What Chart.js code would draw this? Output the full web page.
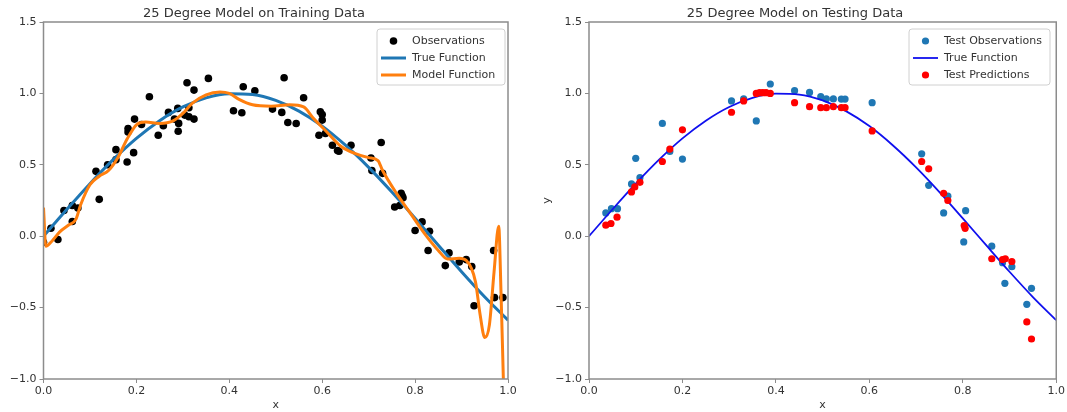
<!DOCTYPE html>
<html><head><meta charset="utf-8">
<script src="https://cdn.jsdelivr.net/npm/chart.js@4.4.0/dist/chart.umd.min.js"></script>
<style>
html,body{margin:0;padding:0;background:#fff;width:1067px;height:412px;overflow:hidden}
#l{position:absolute;left:0;top:0;width:533px;height:412px}
#r{position:absolute;left:533px;top:0;width:534px;height:412px}
</style></head><body>
<div id="l"><canvas id="c1" width="533" height="412"></canvas></div>
<div id="r"><canvas id="c2" width="534" height="412"></canvas></div>
<script>
// ---- data ----
const xTickLabels = ['0.0','0.2','0.4','0.6','0.8','1.0'];
const yTickLabels = ['\u22121.0','\u22120.5','0.0','0.5','1.0','1.5'];

const trainObsX = [0.000,0.016,0.031,0.044,0.062,0.062,0.074,0.113,0.120,0.138,0.156,0.156,0.180,0.182,0.182,0.194,0.196,0.211,0.228,0.247,0.258,0.269,0.282,0.289,0.290,0.291,0.304,0.313,0.309,0.313,0.324,0.324,0.355,0.409,0.427,0.430,0.455,0.493,0.513,0.518,0.526,0.544,0.560,0.593,0.596,0.600,0.600,0.607,0.622,0.633,0.636,0.662,0.705,0.707,0.727,0.730,0.756,0.767,0.770,0.772,0.774,0.800,0.815,0.828,0.831,0.865,0.873,0.895,0.910,0.922,0.927,0.969,0.971,0.989];
const trainObsY = [-0.042,0.056,-0.023,0.180,0.103,0.215,0.197,0.454,0.258,0.500,0.606,0.536,0.520,0.754,0.730,0.585,0.820,0.782,0.977,0.707,0.773,0.867,0.820,0.895,0.735,0.790,0.848,0.836,1.075,0.900,1.023,0.820,1.105,0.878,0.864,1.047,1.019,0.890,0.867,1.110,0.796,0.789,0.970,0.707,0.871,0.852,0.813,0.720,0.637,0.600,0.595,0.637,0.548,0.460,0.656,0.440,0.204,0.215,0.300,0.285,0.270,0.040,0.100,-0.100,0.035,-0.206,-0.117,-0.180,-0.164,-0.213,-0.487,-0.100,-0.430,-0.430];

const trueX = [0.00,0.05,0.10,0.15,0.20,0.25,0.30,0.35,0.40,0.45,0.50,0.55,0.60,0.65,0.70,0.75,0.80,0.85,0.90,0.95,1.00];
const trueY = [0.000,0.187,0.368,0.536,0.685,0.809,0.905,0.969,0.998,0.992,0.951,0.876,0.771,0.637,0.482,0.309,0.125,-0.063,-0.249,-0.426,-0.588];

const modelX = [0.000,0.005,0.018,0.035,0.055,0.070,0.080,0.100,0.120,0.140,0.160,0.180,0.200,0.220,0.250,0.280,0.300,0.320,0.350,0.380,0.400,0.420,0.450,0.490,0.530,0.560,0.580,0.610,0.640,0.670,0.700,0.720,0.730,0.760,0.790,0.820,0.850,0.870,0.895,0.910,0.930,0.940,0.950,0.960,0.970,0.980,0.985,0.990,0.995];
const modelY = [0.200,-0.070,-0.035,0.030,0.080,0.120,0.220,0.360,0.420,0.460,0.550,0.680,0.780,0.800,0.790,0.810,0.860,0.930,0.990,1.010,1.000,0.960,0.920,0.910,0.920,0.905,0.830,0.730,0.630,0.580,0.550,0.530,0.460,0.300,0.160,0.020,-0.100,-0.160,-0.155,-0.170,-0.320,-0.550,-0.710,-0.620,-0.250,0.070,-0.400,-1.000,-1.600];

const testObsX = [0.036,0.048,0.061,0.091,0.100,0.109,0.157,0.173,0.200,0.305,0.331,0.358,0.388,0.440,0.472,0.496,0.508,0.523,0.540,0.548,0.606,0.712,0.727,0.759,0.768,0.802,0.806,0.862,0.885,0.890,0.905,0.937,0.947];
const testObsY = [0.163,0.193,0.193,0.366,0.545,0.410,0.790,0.593,0.540,0.947,0.961,0.807,1.066,1.019,1.007,0.977,0.961,0.961,0.960,0.960,0.935,0.577,0.356,0.163,0.280,-0.040,0.179,-0.070,-0.186,-0.330,-0.214,-0.477,-0.365];

const testPredX = [0.036,0.047,0.060,0.091,0.098,0.109,0.157,0.173,0.200,0.305,0.331,0.358,0.365,0.372,0.379,0.388,0.440,0.472,0.496,0.508,0.523,0.540,0.548,0.606,0.712,0.727,0.759,0.768,0.803,0.805,0.862,0.885,0.891,0.905,0.937,0.947];
const testPredY = [0.077,0.089,0.133,0.310,0.345,0.377,0.523,0.610,0.745,0.868,0.947,1.000,1.005,1.005,1.005,1.000,0.935,0.907,0.900,0.900,0.907,0.900,0.900,0.737,0.523,0.472,0.300,0.250,0.075,0.055,-0.158,-0.163,-0.158,-0.177,-0.600,-0.720];

// ---- helpers ----
const pts = (xs, ys) => xs.map((x, i) => ({x: x, y: ys[i]}));
const FONT = '"DejaVu Sans", "Liberation Sans", sans-serif';
const TXT = '#333333';
const SPINE = '#8c8c8c';

function scales(yWidth, yTitle) {
  return {
    x: {
      type: 'linear', min: 0, max: 1,
      ticks: { stepSize: 0.2, autoSkip: false, maxRotation: 0, padding: 2,
               color: TXT, font: {family: FONT, size: 11},
               callback: (v, i) => xTickLabels[i] },
      grid: { drawOnChartArea: false, drawTicks: true, tickLength: 4, color: SPINE, lineWidth: 1 },
      border: { display: false },
      title: { display: true, text: 'x', color: TXT, font: {family: FONT, size: 11}, padding: {top: 0, bottom: 0} },
      afterFit: s => { s.height = 33; }
    },
    y: {
      type: 'linear', min: -1, max: 1.5,
      ticks: { stepSize: 0.5, autoSkip: false, padding: 3,
               color: TXT, font: {family: FONT, size: 11},
               callback: (v, i) => yTickLabels[i] },
      grid: { drawOnChartArea: false, drawTicks: true, tickLength: 4, color: SPINE, lineWidth: 1 },
      border: { display: false },
      title: { display: !!yTitle, text: yTitle || '', color: TXT, font: {family: FONT, size: 11}, padding: {top: 8, bottom: 0} },
      afterFit: s => { s.width = yWidth; }
    }
  };
}

const framePlugin = {
  id: 'frame',
  afterDatasetsDraw(chart) {
    const a = chart.chartArea, c = chart.ctx;
    c.save();
    c.strokeStyle = SPINE; c.lineWidth = 1.5;
    c.strokeRect(a.left, a.top, a.right - a.left, a.bottom - a.top);
    c.restore();
  }
};

function legendPlugin(order, box) {
  return {
    id: 'boxLegend',
    afterDraw(chart) {
      const c = chart.ctx;
      const {L, R, T, B, rows} = box;
      c.save();
      c.beginPath();
      const r = 3;
      c.moveTo(L + r, T); c.lineTo(R - r, T); c.quadraticCurveTo(R, T, R, T + r);
      c.lineTo(R, B - r); c.quadraticCurveTo(R, B, R - r, B);
      c.lineTo(L + r, B); c.quadraticCurveTo(L, B, L, B - r);
      c.lineTo(L, T + r); c.quadraticCurveTo(L, T, L + r, T);
      c.closePath();
      c.fillStyle = 'rgba(255,255,255,0.85)'; c.fill();
      c.strokeStyle = '#d0d0d0'; c.lineWidth = 1; c.stroke();
      order.forEach((di, i) => {
        const ds = chart.data.datasets[di];
        const y = rows[i];
        if (ds.showLine) {
          c.strokeStyle = ds.borderColor; c.lineWidth = ds.borderWidth;
          c.beginPath(); c.moveTo(L + 4, y); c.lineTo(L + 29, y); c.stroke();
        } else {
          c.fillStyle = ds.backgroundColor;
          c.beginPath(); c.arc(L + 16.5, y, ds.pointRadius, 0, Math.PI * 2); c.fill();
        }
        c.fillStyle = TXT; c.font = '11px ' + FONT;
        c.textAlign = 'left'; c.textBaseline = 'middle';
        c.fillText(ds.label, L + 35, y);
      });
      c.restore();
    }
  };
}

const common = (titleText, padRight, yWidth, yTitle) => ({
  responsive: false, animation: false, events: [],
  layout: { padding: { left: 0, right: padRight, top: 0, bottom: 0 } },
  plugins: {
    legend: { display: false }, tooltip: { enabled: false },
    title: { display: true, text: titleText, color: TXT,
             font: { family: FONT, size: 13, weight: 'normal', lineHeight: 1 },
             padding: { top: 7.5, bottom: 1.5 } }
  },
  scales: scales(yWidth, yTitle)
});

new Chart(document.getElementById('c1'), {
  type: 'scatter',
  data: { datasets: [
    { label: 'Observations', data: pts(trainObsX, trainObsY), backgroundColor: '#000000', borderColor: '#000000',
      pointRadius: 3.8, pointBorderWidth: 0, showLine: false, order: 3 },
    { label: 'True Function', data: pts(trueX, trueY), borderColor: '#1f77b4', backgroundColor: '#1f77b4',
      borderWidth: 3, pointRadius: 0, showLine: true, cubicInterpolationMode: 'monotone', order: 2 },
    { label: 'Model Function', data: pts(modelX, modelY), borderColor: '#ff7f0e', backgroundColor: '#ff7f0e',
      borderWidth: 3, pointRadius: 0, showLine: true, cubicInterpolationMode: 'monotone', order: 1 }
  ]},
  options: common('25 Degree Model on Training Data', 25, 43.5, null),
  plugins: [framePlugin, legendPlugin([0, 1, 2], {L: 377, R: 505, T: 29, B: 85, rows: [41, 58, 75]})]
});

new Chart(document.getElementById('c2'), {
  type: 'scatter',
  data: { datasets: [
    { label: 'Test Observations', data: pts(testObsX, testObsY), backgroundColor: '#1f77b4', borderColor: '#1f77b4',
      pointRadius: 3.6, pointBorderWidth: 0, showLine: false, order: 3 },
    { label: 'True Function', data: pts(trueX, trueY), borderColor: '#1010ee', backgroundColor: '#1010ee',
      borderWidth: 1.8, pointRadius: 0, showLine: true, cubicInterpolationMode: 'monotone', order: 2 },
    { label: 'Test Predictions', data: pts(testPredX, testPredY), backgroundColor: '#ff0000', borderColor: '#ff0000',
      pointRadius: 3.6, pointBorderWidth: 0, showLine: false, order: 1 }
  ]},
  options: common('25 Degree Model on Testing Data', 10, 56, 'y'),
  plugins: [framePlugin, legendPlugin([0, 1, 2], {L: 376, R: 517, T: 29, B: 85, rows: [41, 58, 75]})]
});
</script>
</body></html>
